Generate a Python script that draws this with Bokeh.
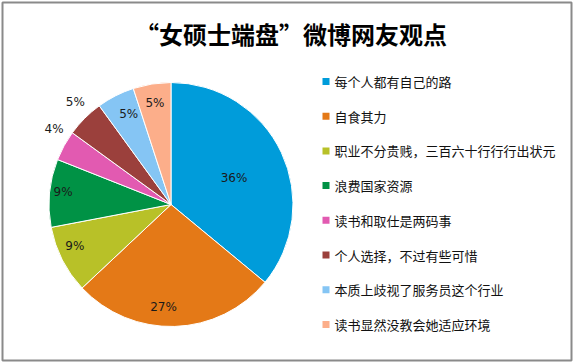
import math
from bokeh.plotting import figure
from bokeh.models import Range1d, ColumnDataSource
from bokeh.core.properties import value
from bokeh.embed import file_html
from bokeh.resources import INLINE

title_text = "“女硕士端盘”微博网友观点"
categories = ["每个人都有自己的路", "自食其力", "职业不分贵贱，三百六十行行行出状元",
              "浪费国家资源", "读书和取仕是两码事", "个人选择，不过有些可惜",
              "本质上歧视了服务员这个行业", "读书显然没教会她适应环境"]
percents = [36, 27, 9, 9, 4, 5, 5, 5]

colors = ["#009CDA", "#E47917", "#B8C128", "#009245", "#E25AB1", "#9B403C", "#85C5F4", "#FCAE8A"]
label_r = [0.56, 0.84, 0.86, 0.89, 1.14, 1.15, 0.82, 0.84]
label_da = [2.5, 6, 3.5, 1, 4, 2, 2, 0]  # degrees clockwise tweak of label placement

W, H = 573, 362
B = 2
p = figure(width=W, height=H, output_backend="svg", toolbar_location=None,
           x_range=Range1d(0, W - 2 * B), y_range=Range1d(0, H - 2 * B),
           x_axis_location=None, y_axis_location=None,
           min_border_left=B, min_border_right=B, min_border_top=B, min_border_bottom=B)
p.grid.visible = False
p.outline_line_color = "#8A8A8A"
p.outline_line_width = 2
p.background_fill_color = "white"
p.border_fill_color = "white"

FH = H - 2 * B

def fx(screen_x):
    return screen_x - B

def fy(screen_y):
    return FH - (screen_y - B)

cx, cy, R = fx(170.5), fy(204), 122
total = sum(percents)
starts, ends, lx, ly, labels = [], [], [], [], []
cum = 0
for i, v in enumerate(percents):
    a0 = math.pi / 2 - cum / total * 2 * math.pi
    cum += v
    a1 = math.pi / 2 - cum / total * 2 * math.pi
    starts.append(a0)
    ends.append(a1)
    mid = (a0 + a1) / 2 - math.radians(label_da[i])
    lx.append(cx + R * label_r[i] * math.cos(mid))
    ly.append(cy + R * label_r[i] * math.sin(mid))
    labels.append(f"{v}%")

src = ColumnDataSource(dict(start=starts, end=ends, color=colors))
p.wedge(x=cx, y=cy, radius=R, start_angle="start", end_angle="end", direction="clock",
        fill_color="color", line_color="white", line_width=1, source=src)

p.text(x=lx, y=ly, text=labels, text_font=value("DejaVu Sans"), text_font_size="12px",
       text_align="center", text_baseline="middle", text_color="#1a1a1a")

# legend
n = len(categories)
ys = [fy(81 + i * 34.7) for i in range(n)]
p.rect(x=[fx(325.5)] * n, y=ys, width=7, height=7, fill_color=colors, line_color=None)
p.text(x=[fx(334)] * n, y=ys, text=categories,
       text_font=value("Noto Sans CJK SC"), text_font_size="13px",
       text_align="left", text_baseline="middle", text_color="#111111")

p.text(x=[fx(290.5)], y=[fy(33)], text=[title_text], text_font=value("Noto Sans CJK SC"),
       text_font_size="24px", text_font_style="bold", text_align="center",
       text_baseline="middle", text_color="#000000")

open("out.html", "w").write(file_html(p, INLINE))
